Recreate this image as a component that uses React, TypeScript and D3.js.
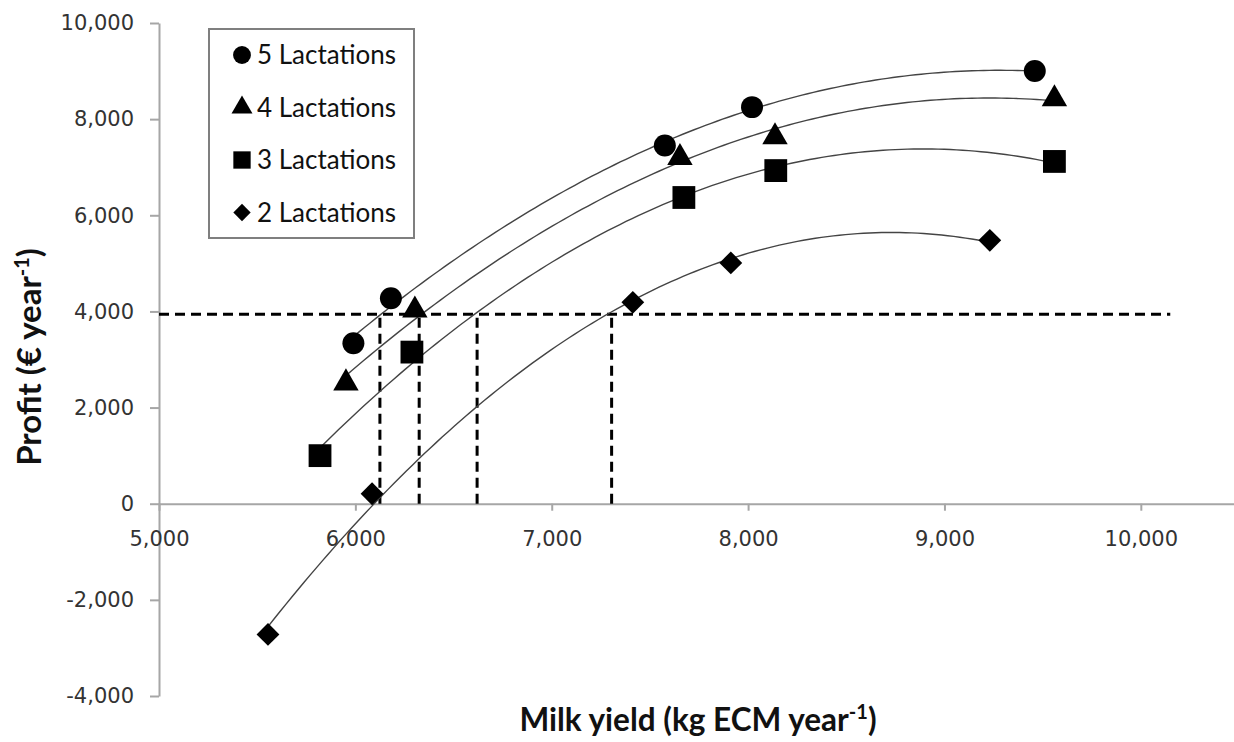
import * as d3 from "d3";
import { useEffect, useRef } from "react";

// legend names, in legend order
const lactations = ["5 Lactations", "4 Lactations", "3 Lactations", "2 Lactations"];

// milk yield (kg ECM / year) and profit (EUR / year) per lactation group
const yield5 = [5990, 6181, 7576, 8020, 9460];
const profit5 = [3340, 4274, 7450, 8250, 9000];
const yield4 = [5952, 6303, 7653, 8137, 9560];
const profit4 = [2510, 4025, 7200, 7630, 8420];
const yield3 = [5820, 6288, 7673, 8141, 9560];
const profit3 = [1000, 3154, 6370, 6930, 7120];
const yield2 = [5555, 6085, 7413, 7912, 9231];
const profit2 = [-2720, 207, 4190, 5010, 5480];

// profit target and the yields where each trendline reaches it
const targetProfit = 3940;
const breakEven = [6125, 6325, 6620, 7305];
const targetEnd = 10150;

const xTicks = [5000, 6000, 7000, 8000, 9000, 10000];
const yTicks = [-4000, -2000, 0, 2000, 4000, 6000, 8000, 10000];

const W = 1234;
const H = 742;

// least squares 2nd order polynomial, like the excel trendline
function quadFit(xs: number[], ys: number[]) {
  const n = xs.length;
  let s1 = 0, s2 = 0, s3 = 0, s4 = 0, t0 = 0, t1 = 0, t2 = 0;
  for (let i = 0; i < n; i++) {
    const x = xs[i], y = ys[i];
    s1 += x; s2 += x * x; s3 += x * x * x; s4 += x * x * x * x;
    t0 += y; t1 += x * y; t2 += x * x * y;
  }
  // solve [n s1 s2; s1 s2 s3; s2 s3 s4] [c b a] = [t0 t1 t2]
  const m = [
    [n, s1, s2, t0],
    [s1, s2, s3, t1],
    [s2, s3, s4, t2],
  ];
  for (let c = 0; c < 3; c++) {
    for (let r = c + 1; r < 3; r++) {
      const f = m[r][c] / m[c][c];
      for (let k = c; k < 4; k++) m[r][k] -= f * m[c][k];
    }
  }
  const res = [0, 0, 0];
  for (let r = 2; r >= 0; r--) {
    let v = m[r][3];
    for (let k = r + 1; k < 3; k++) v -= m[r][k] * res[k];
    res[r] = v / m[r][r];
  }
  return (x: number) => res[0] + res[1] * x + res[2] * x * x;
}

// excel style: thousands comma, plain hyphen for negatives
const fmt = (d: d3.NumberValue) => d3.format(",")(d).replace("\u2212", "-");

export default function App() {
  const ref = useRef<SVGSVGElement>(null);

  useEffect(() => {
    const svg = d3.select(ref.current);
    svg.selectAll("*").remove();

    const x = d3.scaleLinear().domain([5000, 10500]).range([159, 1239]);
    const y = d3.scaleLinear().domain([-4000, 10000]).range([696, 23]);

    const tickFont = "'DejaVu Sans', Verdana, sans-serif";
    const textFont = "Lato, 'Open Sans', sans-serif";

    // y axis
    const ga = svg.append("g").attr("transform", `translate(${x(5000)},0)`)
      .call(d3.axisLeft(y).tickValues(yTicks).tickSize(9).tickSizeOuter(0).tickPadding(16)
        .tickFormat(fmt));
    ga.select(".domain").attr("stroke", "#a6a6a6").attr("stroke-width", 2);
    ga.selectAll(".tick line").attr("stroke", "#a6a6a6").attr("stroke-width", 2);
    ga.selectAll(".tick text").attr("font-family", tickFont).attr("font-size", 21).attr("fill", "#333");

    // x axis, crossing at profit 0
    const gx = svg.append("g").attr("transform", `translate(0,${y(0)})`)
      .call(d3.axisBottom(x).tickValues(xTicks).tickSize(7).tickSizeOuter(0).tickPadding(20)
        .tickFormat(fmt));
    gx.select(".domain").attr("stroke", "#a6a6a6").attr("stroke-width", 2);
    gx.selectAll(".tick line").attr("stroke", "#a6a6a6").attr("stroke-width", 2);
    gx.selectAll(".tick text").attr("font-family", tickFont).attr("font-size", 21).attr("fill", "#333");

    // target profit line and break-even yields
    const dash = { stroke: "#000", w: 3, arr: "10,6" };
    svg.append("line")
      .attr("x1", x(5000)).attr("x2", x(targetEnd))
      .attr("y1", y(targetProfit)).attr("y2", y(targetProfit))
      .attr("stroke", dash.stroke).attr("stroke-width", dash.w).attr("stroke-dasharray", dash.arr);
    svg.selectAll("line.be").data(breakEven).join("line")
      .attr("class", "be")
      .attr("x1", (d) => x(d)).attr("x2", (d) => x(d))
      .attr("y1", y(0)).attr("y2", y(targetProfit))
      .attr("stroke", dash.stroke).attr("stroke-width", dash.w).attr("stroke-dasharray", dash.arr);

    const series = [
      { xs: yield5, ys: profit5, type: d3.symbolCircle, size: 380, rot: 0 },
      { xs: yield4, ys: profit4, type: d3.symbolTriangle, size: 280, rot: 0 },
      { xs: yield3, ys: profit3, type: d3.symbolSquare, size: 520, rot: 0 },
      { xs: yield2, ys: profit2, type: d3.symbolSquare, size: 260, rot: 45 },
    ];

    const line = d3.line<number[]>().x((d) => x(d[0])).y((d) => y(d[1]));

    // trendlines
    series.forEach((s) => {
      const f = quadFit(s.xs, s.ys);
      const [lo, hi] = d3.extent(s.xs) as [number, number];
      const pts = d3.range(lo, hi, (hi - lo) / 120).concat([hi]).map((v) => [v, f(v)]);
      svg.append("path").attr("d", line(pts)).attr("fill", "none")
        .attr("stroke", "#444").attr("stroke-width", 1.4);
    });

    // markers
    series.forEach((s) => {
      const sym = d3.symbol().type(s.type).size(s.size);
      svg.append("g").selectAll("path").data(s.xs).join("path")
        .attr("d", sym())
        .attr("transform", (d, i) => `translate(${x(d)},${y(s.ys[i])}) rotate(${s.rot})`)
        .attr("fill", "#000");
    });

    // legend
    const lg = svg.append("g");
    lg.append("rect").attr("x", 209).attr("y", 29).attr("width", 205).attr("height", 209)
      .attr("fill", "#fff").attr("stroke", "#7f7f7f").attr("stroke-width", 2);
    const legendSize = [250, 190, 300, 150];
    lactations.forEach((name, i) => {
      const cy = 55 + i * 52.5;
      const s = series[i];
      lg.append("path").attr("d", d3.symbol().type(s.type).size(legendSize[i])())
        .attr("transform", `translate(242,${cy}) rotate(${s.rot})`).attr("fill", "#000");
      lg.append("text").attr("x", 257).attr("y", cy).attr("dy", "0.36em")
        .attr("font-family", textFont).attr("font-size", 26).attr("fill", "#111").text(name);
    });

    // axis titles
    const yt = svg.append("text")
      .attr("transform", `translate(41,${357}) rotate(-90)`)
      .attr("text-anchor", "middle").attr("font-family", textFont)
      .attr("font-weight", "bold").attr("font-size", 33).attr("fill", "#111");
    yt.append("tspan").text("Profit (€ year");
    yt.append("tspan").attr("font-size", 20).attr("dy", -12).text("-1");
    yt.append("tspan").attr("dy", 12).text(")");

    const xt = svg.append("text")
      .attr("x", 698).attr("y", 731)
      .attr("text-anchor", "middle").attr("font-family", textFont)
      .attr("font-weight", "bold").attr("font-size", 31.5).attr("fill", "#111");
    xt.append("tspan").text("Milk yield (kg ECM year");
    xt.append("tspan").attr("font-size", 20).attr("dy", -12).text("-1");
    xt.append("tspan").attr("dy", 12).text(")");
  }, []);

  return (
    <div style={{ position: "absolute", left: 0, top: 0, background: "#fff" }}>
      <svg ref={ref} width={W} height={H} style={{ display: "block" }} />
    </div>
  );
}
